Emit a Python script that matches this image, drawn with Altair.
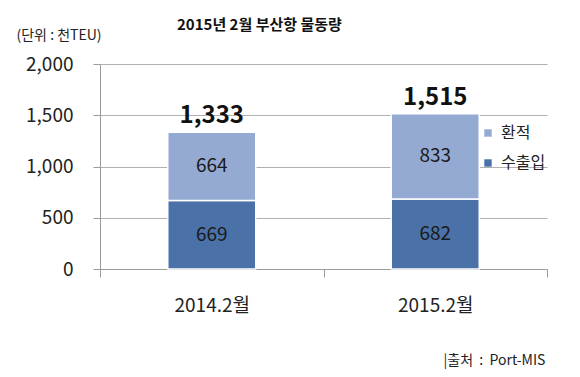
import altair as alt
import pandas as pd

periods = ["2014.2월", "2015.2월"]
import_export = [669, 682]   # 수출입
transship = [664, 833]       # 환적
totals = [1333, 1515]

series_names = ["환적", "수출입"]
colors = ["#95AAD3", "#4A72A8"]

rows = []
for i, p in enumerate(periods):
    rows.append({"period": p, "type": "수출입", "value": import_export[i], "ord": 0})
    rows.append({"period": p, "type": "환적", "value": transship[i], "ord": 1})
df = pd.DataFrame(rows)
tot = pd.DataFrame({"period": periods, "total": totals})

FONT = "Noto Sans CJK KR"
NB = "\u00a0"

x_axis = alt.Axis(title="|출처" + NB * 2 + ":" + NB * 2 + "Port-MIS", titleFont=FONT, titleFontSize=14,
                  titleFontWeight="normal", titleColor="#222",
                  titleX=343, titleY=91, titleAlign="left", titleBaseline="middle",
                  labelAngle=0, labelFont=FONT, labelFontSize=19, labelColor="#222",
                  labelPadding=19, tickBand="extent", tickSize=8,
                  tickColor="#9a9a9a", domainColor="#9a9a9a", grid=False)
y_axis = alt.Axis(values=[0, 500, 1000, 1500, 2000],
                  labelExpr="format(datum.value, ',')",
                  title="(단위 : 천TEU)", titleFont=FONT, titleFontSize=14,
                  titleFontWeight="normal", titleColor="#222", titleAngle=0,
                  titleAlign="left", titleBaseline="middle", titleX=-84, titleY=-29,
                  labelFont=FONT, labelFontSize=19, labelColor="#222", labelPadding=20,
                  tickSize=7, tickColor="#9a9a9a", domainColor="#9a9a9a",
                  gridColor="#b0b0b0", gridWidth=1)
x_scale = alt.Scale(paddingInner=0, paddingOuter=0)
y_scale = alt.Scale(domain=[0, 2000], nice=False)

bars = alt.Chart(df).mark_bar(width=88, stroke="white", strokeWidth=1.5).encode(
    x=alt.X("period:N", sort=periods, scale=x_scale, axis=x_axis),
    y=alt.Y("value:Q", stack="zero", scale=y_scale, axis=y_axis),
    color=alt.Color("type:N", scale=alt.Scale(domain=series_names, range=colors),
                    legend=alt.Legend(title=None, orient="none", legendX=380, legendY=61,
                                      symbolType="square", symbolSize=55, symbolStrokeWidth=0,
                                      labelFont=FONT, labelFontSize=16, labelColor="#222",
                                      rowPadding=14, labelOffset=5)),
    order=alt.Order("ord:Q"),
)

inner = alt.Chart(df).mark_text(font=FONT, fontSize=19, color="#1a1a1a").encode(
    x=alt.X("period:N", sort=periods, scale=x_scale, axis=x_axis),
    y=alt.Y("value:Q", stack="zero", bandPosition=0.5, scale=y_scale, axis=y_axis),
    detail="type:N",
    order=alt.Order("ord:Q"),
    text=alt.Text("value:Q", format=","),
)

top = alt.Chart(tot).mark_text(font=FONT, fontSize=24, fontWeight="bold", color="#111",
                               baseline="bottom", dy=-4).encode(
    x=alt.X("period:N", sort=periods, scale=x_scale, axis=x_axis),
    y=alt.Y("total:Q", scale=y_scale, axis=y_axis),
    text=alt.Text("total:Q", format=","),
)

chart = alt.layer(bars, inner, top).properties(
    width=447, height=205,
    background="white",
    view=alt.ViewBackground(stroke=None, strokeOpacity=0),
    title=alt.Title("2015년 2월 부산항 물동량", font=FONT, fontSize=15, fontWeight="bold",
                    color="#111", anchor="start", dx=161, offset=0, dy=5),
    autosize=alt.AutoSizeParams(type="none"),
    padding={"left": 100, "top": 64, "right": 33, "bottom": 108},
).configure_view(stroke=None, strokeOpacity=0)

chart.save("out.html", embed_options={"renderer": "svg", "actions": False})
